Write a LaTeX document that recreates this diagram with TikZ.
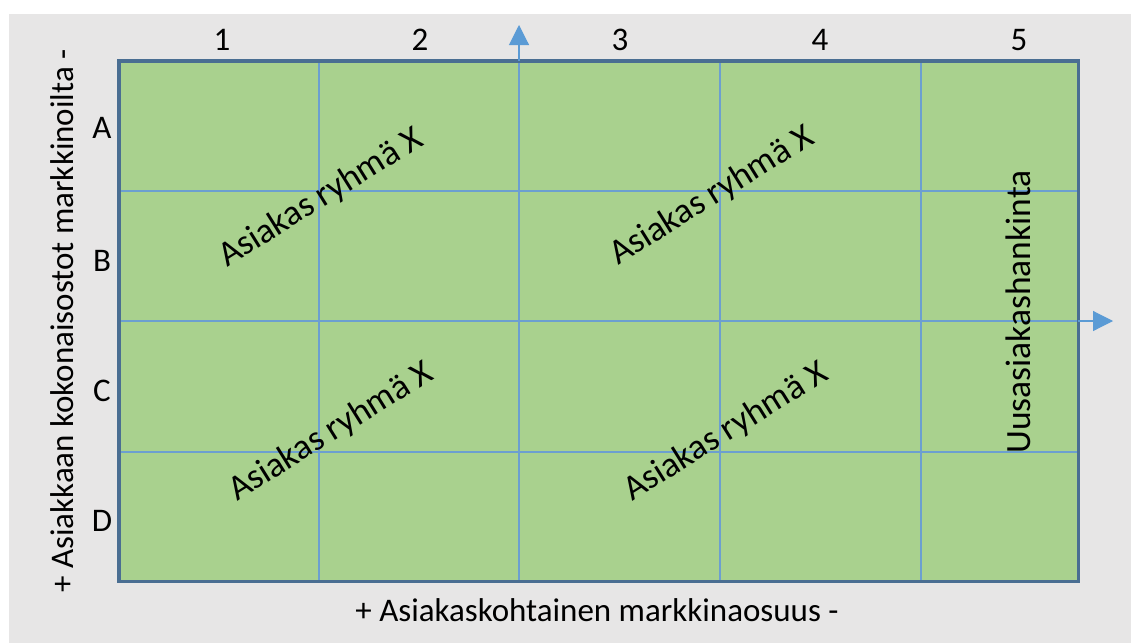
\documentclass[tikz,border=0pt]{standalone}
\usepackage{fontspec}
\setmainfont{Carlito}
\usetikzlibrary{positioning,arrows.meta}

\definecolor{bggray}{HTML}{E7E6E6}
\definecolor{cellgreen}{HTML}{A9D18E}
\definecolor{frameblue}{HTML}{4A6E92}
\definecolor{gridblue}{HTML}{6C9FD0}
\definecolor{axisblue}{HTML}{5B9BD5}

\begin{document}
\begin{tikzpicture}[x=1pt, y=-1pt,
	lbl/.style={font=\fontsize{33}{36}\selectfont, inner sep=0pt},
	axislbl/.style={font=\fontsize{33}{36}\selectfont, inner sep=0pt},
	grouplbl/.style={font=\fontsize{35.5}{38}\selectfont, rotate=32, inner sep=0pt},
	newlbl/.style={font=\fontsize{35.5}{38}\selectfont, rotate=90, inner sep=0pt},
	gridline/.style={draw=gridblue, line width=1.1pt},
	arr/.style={-{Triangle[length=20pt, width=20pt]}, draw=axisblue, line width=1.1pt}
]
	\useasboundingbox (0,0) rectangle (1131,643);
	\fill[white] (0,0) rectangle (1131,643);
	\fill[bggray] (9,14) rectangle (1131,643);

	% the field
	\node[fill=cellgreen, minimum width=959pt, minimum height=520pt,
		inner sep=0pt, anchor=north west] (field) at (119,61) {};
	\foreach \x in {319,519,720,921}
		\draw[gridline] (\x,61) -- (\x,581);
	\foreach \y in {191,321,452}
		\draw[gridline] (119,\y) -- (1078,\y);
	\draw[frameblue, line width=3.5pt] (field.north west) rectangle (field.south east);

	% axes
	\coordinate (vbase) at (519,61);
	\coordinate (vtip) at (519,25);
	\coordinate (hbase) at (1078,321);
	\coordinate (htip) at (1113,321);
	\draw[arr] (vbase) -- (vtip);
	\draw[arr] (hbase) -- (htip);

	% column and row labels
	\foreach \c/\x in {1/222,2/420,3/620,4/820,5/1019}
		\node[lbl] (col\c) at (\x,40) {\c};
	\foreach \r/\y in {A/128,B/261,C/391,D/521}
		\node[lbl] (row\r) at (102,\y) {\r};

	\node[axislbl, rotate=90] (yaxis) at (62,321)
		{+ Asiakkaan kokonaisostot markkinoilta -};
	\node[axislbl] (xaxis) at (597,610)
		{+ Asiakaskohtainen markkinaosuus -};

	% customer groups
	\node[grouplbl] (groupAB1) at (321,198) {Asiakas ryhmä X};
	\node[grouplbl] (groupAB2) at (712,196) {Asiakas ryhmä X};
	\node[grouplbl] (groupCD1) at (331,432) {Asiakas ryhmä X};
	\node[grouplbl] (groupCD2) at (726,432) {Asiakas ryhmä X};
	\node[newlbl] (newcust) at (1018,312) {Uusasiakashankinta};
\end{tikzpicture}
\end{document}
